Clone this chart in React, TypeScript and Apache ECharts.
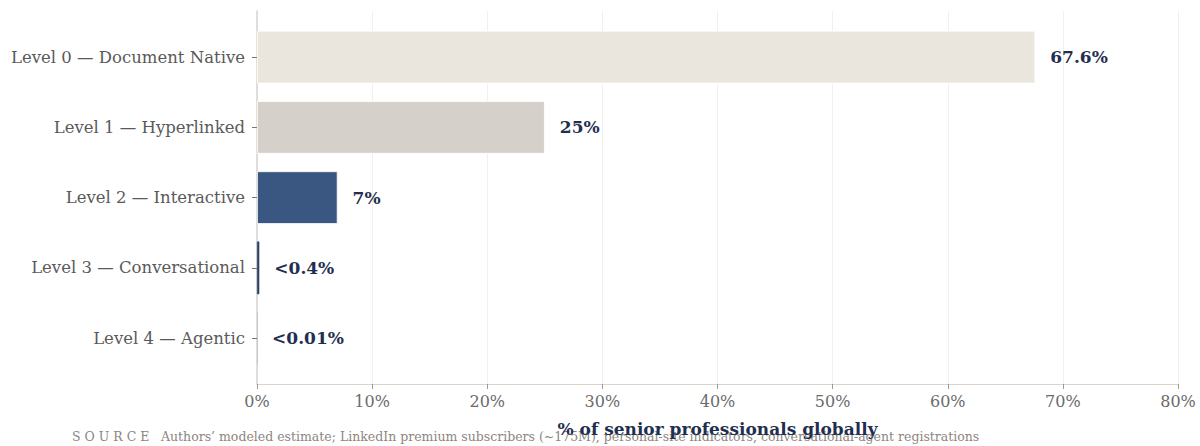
import React, { useEffect, useRef } from "react";
import * as echarts from "echarts";

const categories = [
  "Level 0 — Document Native",
  "Level 1 — Hyperlinked",
  "Level 2 — Interactive",
  "Level 3 — Conversational",
  "Level 4 — Agentic",
];
const values = [67.6, 25, 7, 0.2, 0.01];
const valueLabels = ["67.6%", "25%", "7%", "<0.4%", "<0.01%"];
const barColors = ["#EAE6DD", "#D5D0CA", "#3A5781", "#2B4166", "#1E2F4F"];
const xTicks = [0, 10, 20, 30, 40, 50, 60, 70, 80];
const axisTitle = "% of senior professionals globally";
const sourceLabel = "S O U R C E";
const sourceText =
  "Authors’ modeled estimate; LinkedIn premium subscribers (~175M), personal-site indicators, conversational-agent registrations";

const FONT = "DejaVu Serif";
const NAVY = "#1F2F4F";

export default function App() {
  const ref = useRef<HTMLDivElement>(null);
  useEffect(() => {
    document.body.style.margin = "0";
    const chart = echarts.init(ref.current!, null, { renderer: "svg" });
    const xMin = xTicks[0];
    const xMax = xTicks[xTicks.length - 1];
    chart.setOption({
      animation: false,
      backgroundColor: "#ffffff",
      grid: [
        { left: 257, right: 22, top: 22, height: 351.25, containLabel: false },
        { left: 257, right: 22, top: 11, bottom: 62, containLabel: false },
      ],
      xAxis: [
        { gridIndex: 0, type: "value", min: xMin, max: xMax, show: false },
        {
          gridIndex: 1,
          type: "value",
          min: xMin,
          max: xMax,
          interval: 10,
          axisLine: { show: true, lineStyle: { color: "#D9D5CE", width: 1 } },
          axisTick: { show: true, length: 5, lineStyle: { color: "#9A9A9A" } },
          axisLabel: {
            formatter: "{value}%",
            fontFamily: FONT,
            fontSize: 16,
            color: "#6B6B6B",
            margin: 9,
          },
          splitLine: { show: true, lineStyle: { color: "#F1F0EE", width: 1 } },
          name: axisTitle,
          nameLocation: "middle",
          nameGap: 36,
          nameTextStyle: {
            fontFamily: FONT,
            fontSize: 17,
            fontWeight: "bold",
            color: NAVY,
          },
        },
      ],
      yAxis: [
        {
          gridIndex: 0,
          type: "category",
          inverse: true,
          data: categories,
          axisLine: { show: false },
          axisTick: {
            show: true,
            alignWithLabel: true,
            length: 5,
            lineStyle: { color: "#777777" },
          },
          axisLabel: {
            fontFamily: FONT,
            fontSize: 16.5,
            color: "#5A5A5A",
            margin: 12,
          },
          splitLine: { show: false },
        },
        {
          gridIndex: 1,
          type: "value",
          min: 0,
          max: 1,
          axisLine: { show: true, lineStyle: { color: "#D9D5CE", width: 1.5 } },
          axisTick: { show: false },
          axisLabel: { show: false },
          splitLine: { show: false },
        },
      ],
      series: [
        {
          type: "bar",
          xAxisIndex: 0,
          yAxisIndex: 0,
          barWidth: "75%",
          data: values.map((v, i) => ({
            value: v,
            itemStyle: {
              color: barColors[i],
              borderColor: v >= 1 ? "#ffffff" : barColors[i],
              borderWidth: v >= 1 ? 0.8 : v >= 0.1 ? 0.6 : 0,
            },
          })),
          label: {
            show: true,
            position: "right",
            distance: 15,
            formatter: (p: any) => valueLabels[p.dataIndex],
            fontFamily: FONT,
            fontSize: 17,
            fontWeight: "bold",
            color: NAVY,
          },
        },
      ],
      graphic: [
        {
          type: "text",
          left: 72,
          top: 430,
          style: {
            text: sourceLabel,
            fontFamily: FONT,
            fontSize: 12.5,
            fill: "#8C8680",
          },
        },
        {
          type: "text",
          left: 161,
          top: 430,
          style: {
            text: sourceText,
            fontFamily: FONT,
            fontSize: 12.5,
            fill: "#8C8680",
          },
        },
      ],
    });
    return () => chart.dispose();
  }, []);
  return (
    <div
      ref={ref}
      style={{ position: "absolute", left: 0, top: 0, width: 1200, height: 446 }}
    />
  );
}
